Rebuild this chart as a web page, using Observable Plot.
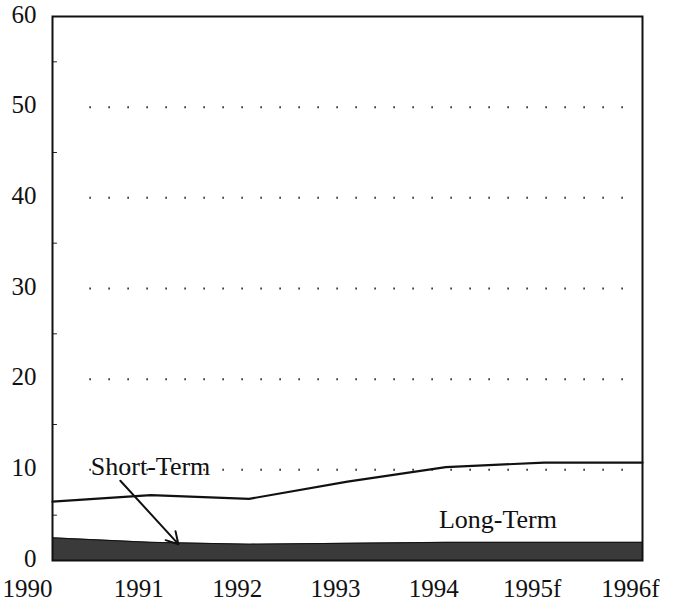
<!DOCTYPE html>
<html><head><meta charset="utf-8">
<script src="https://cdn.jsdelivr.net/npm/d3@7"></script>
<script src="https://cdn.jsdelivr.net/npm/@observablehq/plot@0.6"></script>
<style>html,body{margin:0;padding:0;background:#fff}</style>
</head><body><div id="chart"></div>
<script>
const years = [1990, 1991, 1992, 1993, 1994, 1995, 1996];
const yearLabels = ["1990", "1991", "1992", "1993", "1994", "1995f", "1996f"];
const shortTerm = [2.5, 2.0, 1.8, 1.9, 2.0, 2.0, 2.0];
const longTerm = [4.0, 5.2, 5.0, 6.8, 8.3, 8.8, 8.8];
const yTicks = [0, 10, 20, 30, 40, 50, 60];
const gridTicks = [10, 20, 30, 40, 50];
const minorTicks = [5, 15, 25, 35, 45, 55];
const labels = [
  {x: 1990.39, y: 10.3, text: "Short-Term"},
  {x: 1993.93, y: 4.5, text: "Long-Term"}
];
const arrows = [{x1: 1990.69, y1: 8.8, x2: 1991.28, y2: 1.8}];

const total = years.map((y, i) => shortTerm[i] + longTerm[i]);
const rows = years.map((y, i) => ({year: y, short: shortTerm[i], total: total[i]}));
const font = "Liberation Serif, DejaVu Serif, serif";

const chart = Plot.plot({
  width: 681, height: 601,
  marginLeft: 52, marginRight: 39, marginTop: 16, marginBottom: 41,
  style: {fontFamily: font, background: "#fff", color: "#111"},
  x: {domain: [1990, 1996], axis: null},
  y: {domain: [0, 60], axis: null},
  marks: [
    Plot.ruleY(gridTicks, {x1: 1990.38, x2: 1995.95, stroke: "#222", strokeWidth: 2, strokeDasharray: "1.5,17.5"}),
    Plot.areaY(rows, {x: "year", y1: 0, y2: "short", fill: "#3a3a3a", curve: "linear"}),
    Plot.lineY(rows, {x: "year", y: "short", stroke: "#111", strokeWidth: 1}),
    Plot.lineY(rows, {x: "year", y: "total", stroke: "#111", strokeWidth: 2.2}),
    Plot.ruleY(minorTicks, {x1: 1990, x2: 1990.05, stroke: "#222", strokeWidth: 1}),
    Plot.frame({stroke: "#111", strokeWidth: 2}),
    Plot.text(yTicks, {x: 1990, y: d => d, text: d => String(d), textAnchor: "end", dx: -16, dy: -2, fontSize: 25, fill: "#111"}),
    Plot.text(years.slice(0, 1), {x: d => d, y: 0, text: () => yearLabels[0], dy: 28, dx: -25, fontSize: 25, fill: "#111"}),
    Plot.text(years.slice(1), {x: d => d, y: 0, text: d => yearLabels[years.indexOf(d)], dy: 28, dx: -12, fontSize: 25, fill: "#111"}),
    Plot.arrow(arrows, {x1: "x1", y1: "y1", x2: "x2", y2: "y2", stroke: "#111", strokeWidth: 2, headLength: 10}),
    Plot.text(labels, {x: "x", y: "y", text: "text", textAnchor: "start", fontSize: 26, fill: "#111"})
  ]
});
document.getElementById("chart").appendChild(chart);
</script></body></html>
